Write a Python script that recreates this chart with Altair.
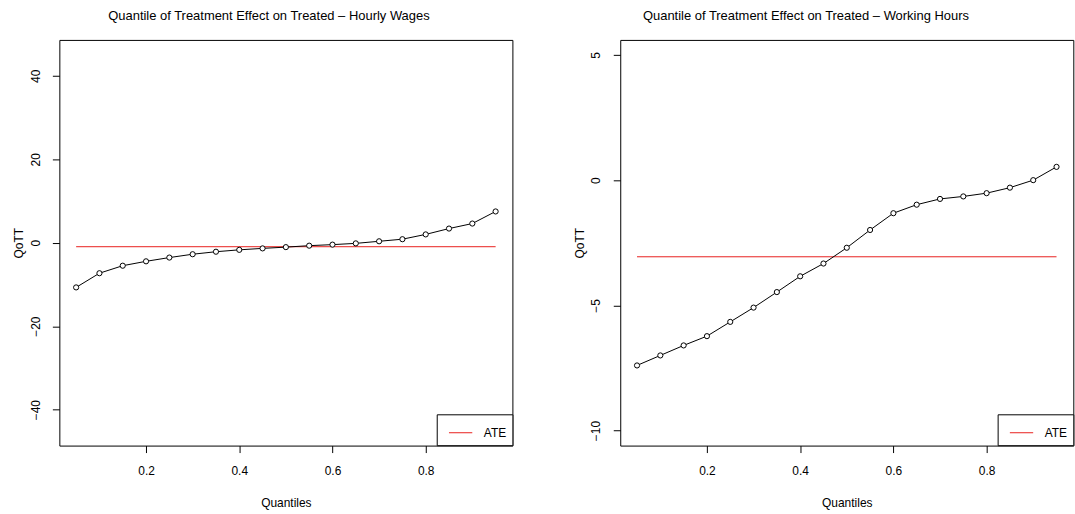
import altair as alt
import pandas as pd

# ---- data ----
quantiles = [0.05, 0.10, 0.15, 0.20, 0.25, 0.30, 0.35, 0.40, 0.45, 0.50,
             0.55, 0.60, 0.65, 0.70, 0.75, 0.80, 0.85, 0.90, 0.95]
wage_qott = [-10.7, -7.3, -5.5, -4.45, -3.55, -2.75, -2.15, -1.7, -1.35, -1.05,
             -0.7, -0.45, -0.15, 0.35, 0.85, 2.0, 3.4, 4.6, 7.5]
hours_qott = [-7.40, -7.00, -6.60, -6.23, -5.66, -5.09, -4.47, -3.84, -3.33, -2.70,
              -1.99, -1.32, -0.98, -0.75, -0.65, -0.52, -0.30, 0.00, 0.53]
wage_ate = -0.95
hours_ate = -3.06

wage_ylim = [-45, 45]
hours_ylim = [-10, 5]
x_ticks = [0.2, 0.4, 0.6, 0.8]
wage_y_ticks = [-40, -20, 0, 20, 40]
hours_y_ticks = [-10, -5, 0, 5]

titles = ["Quantile of Treatment Effect on Treated \u2013 Hourly Wages",
          "Quantile of Treatment Effect on Treated \u2013 Working Hours"]
x_title = "Quantiles"
y_title = "QoTT"
legend_label = "ATE"

FONT = "Liberation Sans"
W, H = 455, 407.4


def expand(lo, hi, f=0.04):
    d = (hi - lo) * f
    return [lo - d, hi + d]


x_domain = expand(min(quantiles), max(quantiles))


def panel(qott, ate, ylim, y_ticks, title, title_dx):
    df = pd.DataFrame({"q": quantiles, "qott": qott})
    ate_df = pd.DataFrame({"q": [min(quantiles)], "q2": [max(quantiles)],
                           "ate": [ate], "series": [legend_label]})
    xs = alt.Scale(domain=x_domain, nice=False, zero=False)
    ys = alt.Scale(domain=expand(*ylim), nice=False, zero=False)
    x_axis = alt.Axis(values=x_ticks, format=".1f", title=x_title, grid=False, domain=False,
                      tickColor="black", tickSize=7, tickWidth=1,
                      labelFont=FONT, labelFontSize=12, labelColor="black",
                      labelPadding=18, labelBaseline="middle", labelFlush=False,
                      labelOverlap=False,
                      titleFont=FONT, titleFontSize=12, titleFontWeight="normal",
                      titleColor="black", titleY=57, titleBaseline="middle")
    y_axis = alt.Axis(values=y_ticks, format="d", title=y_title, grid=False, domain=False,
                      tickColor="black", tickSize=7, tickWidth=1,
                      labelFont=FONT, labelFontSize=12, labelColor="black",
                      labelAngle=270, labelAlign="center", labelBaseline="middle",
                      labelPadding=17.4, labelFlush=False, labelOverlap=False,
                      titleFont=FONT, titleFontSize=12, titleFontWeight="normal",
                      titleColor="black", titleAngle=270, titleX=-41.4, titleY=H / 2,
                      titleAlign="center", titleBaseline="middle")
    line = alt.Chart(df).mark_line(color="black", strokeWidth=1).encode(
        x=alt.X("q:Q", scale=xs, axis=x_axis),
        y=alt.Y("qott:Q", scale=ys, axis=y_axis),
    )
    pts = alt.Chart(df).mark_point(shape="circle", filled=True, fill="white",
                                   stroke="black", strokeWidth=1, size=27,
                                   opacity=1).encode(
        x=alt.X("q:Q", scale=xs),
        y=alt.Y("qott:Q", scale=ys),
    )
    rule = alt.Chart(ate_df).mark_rule(strokeWidth=1).encode(
        x=alt.X("q:Q", scale=xs),
        x2="q2:Q",
        y=alt.Y("ate:Q", scale=ys),
        color=alt.Color("series:N",
                        scale=alt.Scale(domain=[legend_label], range=["#E8201E"]),
                        legend=alt.Legend(orient="bottom-right", offset=0, padding=6,
                                          strokeColor="black", fillColor="white",
                                          symbolType="stroke", symbolSize=548,
                                          symbolStrokeWidth=1, symbolOffset=5.5,
                                          labelOffset=10.8, labelFont=FONT,
                                          labelFontSize=12, labelColor="black",
                                          title=None)),
    )
    return alt.layer(rule, line, pts).properties(
        width=W, height=H,
        title=alt.TitleParams(text=title, font=FONT, fontSize=13, fontWeight="normal",
                              color="black", anchor="middle", dx=title_dx, offset=7.4,
                              baseline="alphabetic"),
    )


left = panel(wage_qott, wage_ate, wage_ylim, wage_y_ticks, titles[0], -17)
right = panel(hours_qott, hours_ate, hours_ylim, hours_y_ticks, titles[1], -41)

chart = alt.hconcat(left, right, spacing=108.3, bounds="flush").resolve_scale(
    color="independent").resolve_legend(color="independent").properties(
    padding={"left": 11.6, "top": 8, "right": 0, "bottom": 0},
    background="white",
).configure_view(stroke="black", strokeWidth=1)

chart.save("out.html", embed_options={"renderer": "svg", "actions": False})
